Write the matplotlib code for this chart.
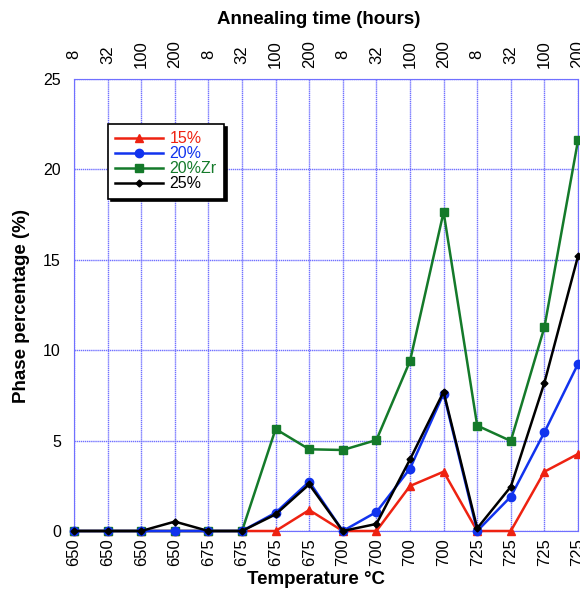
import matplotlib.pyplot as plt

plt.rcParams['font.family'] = ['Liberation Sans', 'DejaVu Sans']

# bottom axis: temperature, top axis: annealing time
temps = ['650', '650', '650', '650', '675', '675', '675', '675',
         '700', '700', '700', '700', '725', '725', '725', '725']
hours = ['8', '32', '100', '200'] * 4

p15 = [0, 0, 0, 0, 0, 0, 0, 1.16, 0, 0, 2.49, 3.28, 0, 0, 3.28, 4.26]
p20 = [0, 0, 0, 0, 0, 0, 1.01, 2.73, 0, 1.05, 3.45, 7.6, 0, 1.9, 5.46, 9.24]
p20zr = [0, 0, 0, 0, 0, 0, 5.64, 4.52, 4.48, 5.03, 9.4, 17.64, 5.83, 4.98, 11.27, 21.6]
p25 = [0, 0, 0, 0.52, 0, 0, 0.92, 2.58, 0, 0.39, 3.96, 7.7, 0.15, 2.45, 8.2, 15.2]

x = list(range(len(temps)))

fig = plt.figure(figsize=(5.8, 5.92), dpi=100)
ax = fig.add_axes([74 / 580, 61 / 592, 504 / 580, 452 / 592])

grid_col = '#7070ff'
ax.plot(x, p15, color='#ee2211', marker='^', ms=6, lw=1.8, label='15%', clip_on=False, zorder=3)
ax.plot(x, p20, color='#1133ee', marker='o', ms=6, lw=1.8, label='20%', clip_on=False, zorder=4)
ax.plot(x, p20zr, color='#147a2a', marker='s', ms=6, lw=1.8, label='20%Zr', clip_on=False, zorder=3)
ax.plot(x, p25, color='black', marker='D', ms=3.5, lw=1.8, label='25%', clip_on=False, zorder=5)

ax.set_xlim(0, 15)
ax.set_ylim(0, 25)
ax.set_yticks([0, 5, 10, 15, 20, 25])
ax.set_xticks(x)
ax.set_xticklabels(temps, rotation=90)
ax.tick_params(axis='x', length=0, labelsize=12, pad=5)
ax.tick_params(axis='y', length=0, labelsize=11.5, pad=9.4)
ax.grid(True, color=grid_col, ls=(0, (1, 0.5)), lw=1)
for s in ax.spines.values():
    s.set_color(grid_col)
    s.set_linestyle((0, (1, 0.5)))

ax2 = ax.twiny()
ax2.set_xlim(0, 15)
ax2.set_xticks(x)
ax2.set_xticklabels(hours, rotation=90, va='center')
ax2.tick_params(length=0, labelsize=12, pad=17.6)
for s in ax2.spines.values():
    s.set_visible(False)

fig.text(319 / 580, 1 - 20 / 592, 'Annealing time (hours)', fontsize=13.5,
         fontweight='bold', ha='center', va='center')
fig.text(316 / 580, 1 - 579 / 592, 'Temperature °C', fontsize=13.5,
         fontweight='bold', ha='center', va='center')
fig.text(22 / 580, 1 - 306 / 592, 'Phase percentage (%)', fontsize=13.5,
         fontweight='bold', ha='center', va='center', rotation=90)

leg = ax.legend(loc='upper left', bbox_to_anchor=(0.0675, 0.9), borderaxespad=0,
                fancybox=False, shadow={'color': 'black', 'alpha': 1},
                edgecolor='black', labelcolor='linecolor', fontsize=11.5,
                handlelength=3.0, handletextpad=0.4, borderpad=0.45,
                labelspacing=0.0, framealpha=1)
leg.get_frame().set_linewidth(1.2)

fig.savefig('out.png', dpi=100)
